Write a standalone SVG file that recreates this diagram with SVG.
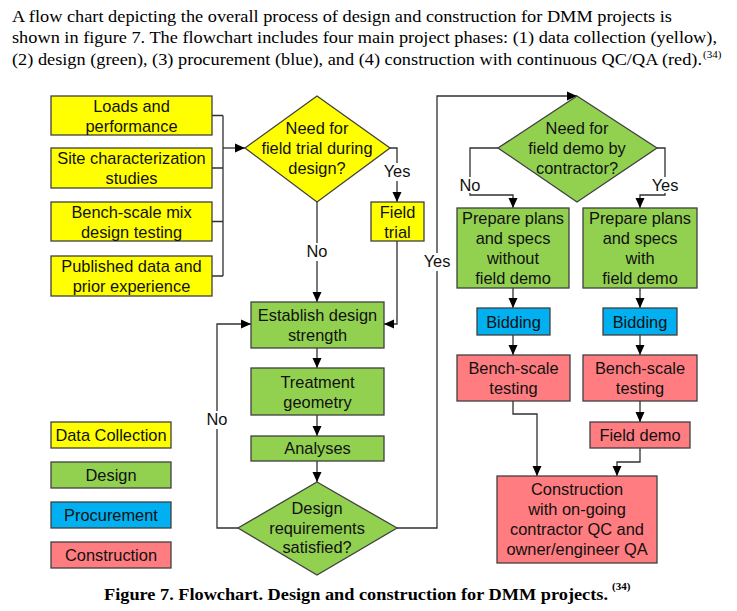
<svg xmlns="http://www.w3.org/2000/svg" width="737" height="611" viewBox="0 0 737 611">
<defs>
<style>
.t{font-family:"Liberation Serif","Times New Roman",serif;font-size:17px;fill:#000}
.cap{font-family:"Liberation Serif","Times New Roman",serif;font-size:17.5px;font-weight:bold;fill:#000}
.sup{font-family:"Liberation Serif","Times New Roman",serif;font-size:11px;fill:#000}
.n{font-family:"Liberation Sans",Arial,sans-serif;font-size:16.4px;fill:#111;text-anchor:middle}
.y{fill:#FFFF00;stroke:#404040;stroke-width:1.3}
.g{fill:#92D050;stroke:#404040;stroke-width:1.3}
.b{fill:#00B0F0;stroke:#404040;stroke-width:1.3}
.r{fill:#FF7C80;stroke:#404040;stroke-width:1.3}
.c{fill:none;stroke:#303030;stroke-width:1.3}
.a{fill:none;stroke:#303030;stroke-width:1.3;marker-end:url(#ah)}
.bg{fill:#fff}
</style>
<marker id="ah" markerUnits="userSpaceOnUse" markerWidth="10" markerHeight="10" refX="10" refY="5" orient="auto">
<path d="M0,0.5 L10,5 L0,9.5 Z" fill="#000"/>
</marker>
</defs>
<rect width="737" height="611" fill="#fff"/>

<g id="intro">
<text class="t" x="12" y="22" textLength="660" lengthAdjust="spacingAndGlyphs">A flow chart depicting the overall process of design and construction for DMM projects is</text>
<text class="t" x="12" y="43" textLength="705" lengthAdjust="spacingAndGlyphs">shown in figure 7. The flowchart includes four main project phases: (1) data collection (yellow),</text>
<text class="t" x="12" y="65" textLength="690" lengthAdjust="spacingAndGlyphs">(2) design (green), (3) procurement (blue), and (4) construction with continuous QC/QA (red).</text>
<text class="sup" x="703" y="58">(34)</text>
</g>

<g id="connectors">
<path class="c" d="M212,115.5 H223 M212,168 H223 M212,221.5 H223 M212,276 H223 M223,115.5 V276"/>
<path class="a" d="M223,148 H245"/>
<path class="a" d="M390,148 H397 V202"/>
<path class="a" d="M317,202 V302"/>
<path class="a" d="M397,241 V324 H384"/>
<path class="a" d="M317,348 V368"/>
<path class="a" d="M317,415 V436"/>
<path class="a" d="M317,461 V482"/>
<path class="a" d="M238,528 H217 V324 H251"/>
<path class="a" d="M397,528 H437 V96 H577"/>
<path class="a" d="M498,148 H470 V195 H513 V208"/>
<path class="a" d="M657,148 H665 V195 H640 V208"/>
<path class="a" d="M513,288 V308"/>
<path class="a" d="M640,288 V308"/>
<path class="a" d="M513,335 V355"/>
<path class="a" d="M640,335 V355"/>
<path class="a" d="M640,401 V422"/>
<path class="a" d="M513,401 V414 H537 V476"/>
<path class="a" d="M640,448 V462 H617 V476"/>
<rect class="bg" x="383" y="163" width="28" height="18"/>
<text class="n" x="397" y="177">Yes</text>
<rect class="bg" x="304" y="243" width="26" height="18"/>
<text class="n" x="317" y="257">No</text>
<rect class="bg" x="204" y="411" width="26" height="18"/>
<text class="n" x="217" y="425">No</text>
<rect class="bg" x="423" y="253" width="28" height="18"/>
<text class="n" x="437" y="267">Yes</text>
<rect class="bg" x="457" y="177" width="26" height="16"/>
<text class="n" x="470" y="191">No</text>
<rect class="bg" x="651" y="177" width="28" height="16"/>
<text class="n" x="665" y="191">Yes</text>
</g>

<g id="loads"><rect class="y" x="51" y="96" width="161" height="39"/><text class="n" x="131.5" y="111.5">Loads and</text><text class="n" x="131.5" y="131.5">performance</text></g>
<g id="site"><rect class="y" x="51" y="148" width="161" height="40"/><text class="n" x="131.5" y="164">Site characterization</text><text class="n" x="131.5" y="184">studies</text></g>
<g id="bench-mix"><rect class="y" x="51" y="202" width="161" height="39"/><text class="n" x="131.5" y="217.5">Bench-scale mix</text><text class="n" x="131.5" y="237.5">design testing</text></g>
<g id="published"><rect class="y" x="51" y="256" width="161" height="40"/><text class="n" x="131.5" y="272">Published data and</text><text class="n" x="131.5" y="292">prior experience</text></g>

<g id="field-trial-decision"><polygon class="y" points="317,96 390,148 317,202 245,148"/><text class="n" x="317" y="134">Need for</text><text class="n" x="317" y="154">field trial during</text><text class="n" x="317" y="174">design?</text></g>
<g id="field-trial"><rect class="y" x="371" y="202" width="53" height="39"/><text class="n" x="397.5" y="217.5">Field</text><text class="n" x="397.5" y="237.5">trial</text></g>

<g id="establish"><rect class="g" x="251" y="302" width="133" height="46"/><text class="n" x="317.5" y="321">Establish design</text><text class="n" x="317.5" y="341">strength</text></g>
<g id="treatment"><rect class="g" x="251" y="368" width="133" height="47"/><text class="n" x="317.5" y="387.5">Treatment</text><text class="n" x="317.5" y="407.5">geometry</text></g>
<g id="analyses"><rect class="g" x="251" y="436" width="133" height="25"/><text class="n" x="317.5" y="454">Analyses</text></g>
<g id="requirements-decision"><polygon class="g" points="317,482 397,528 317,575 238,528"/><text class="n" x="317" y="514">Design</text><text class="n" x="317" y="534">requirements</text><text class="n" x="317" y="553">satisfied?</text></g>

<g id="demo-decision"><polygon class="g" points="577,96 657,148 577,202 498,148"/><text class="n" x="577" y="134">Need for</text><text class="n" x="577" y="154">field demo by</text><text class="n" x="577" y="174">contractor?</text></g>
<g id="plans-without"><rect class="g" x="457" y="208" width="112" height="80"/><text class="n" x="513" y="224">Prepare plans</text><text class="n" x="513" y="244">and specs</text><text class="n" x="513" y="264">without</text><text class="n" x="513" y="284">field demo</text></g>
<g id="plans-with"><rect class="g" x="583" y="208" width="114" height="80"/><text class="n" x="640" y="224">Prepare plans</text><text class="n" x="640" y="244">and specs</text><text class="n" x="640" y="264">with</text><text class="n" x="640" y="284">field demo</text></g>
<g id="bidding-left"><rect class="b" x="477" y="308" width="73" height="27"/><text class="n" x="513.5" y="327.5">Bidding</text></g>
<g id="bidding-right"><rect class="b" x="603" y="308" width="74" height="27"/><text class="n" x="640" y="327.5">Bidding</text></g>
<g id="bench-left"><rect class="r" x="457" y="355" width="113" height="46"/><text class="n" x="513.5" y="374">Bench-scale</text><text class="n" x="513.5" y="394">testing</text></g>
<g id="bench-right"><rect class="r" x="583" y="355" width="114" height="46"/><text class="n" x="640" y="374">Bench-scale</text><text class="n" x="640" y="394">testing</text></g>
<g id="field-demo"><rect class="r" x="590" y="422" width="100" height="26"/><text class="n" x="640" y="441">Field demo</text></g>
<g id="construction"><rect class="r" x="497" y="476" width="160" height="87"/><text class="n" x="577" y="495">Construction</text><text class="n" x="577" y="515">with on-going</text><text class="n" x="577" y="535">contractor QC and</text><text class="n" x="577" y="555">owner/engineer QA</text></g>

<g id="legend-data"><rect class="y" x="51" y="422" width="120" height="26"/><text class="n" x="111" y="441">Data Collection</text></g>
<g id="legend-design"><rect class="g" x="51" y="462" width="120" height="26"/><text class="n" x="111" y="481">Design</text></g>
<g id="legend-procurement"><rect class="b" x="51" y="502" width="120" height="26"/><text class="n" x="111" y="521">Procurement</text></g>
<g id="legend-construction"><rect class="r" x="51" y="542" width="120" height="26"/><text class="n" x="111" y="561">Construction</text></g>

<g id="caption">
<text class="cap" x="104" y="600" textLength="504" lengthAdjust="spacingAndGlyphs">Figure 7. Flowchart. Design and construction for DMM projects.</text>
<text class="sup" x="612" y="590" font-weight="bold">(34)</text>
</g>
</svg>
